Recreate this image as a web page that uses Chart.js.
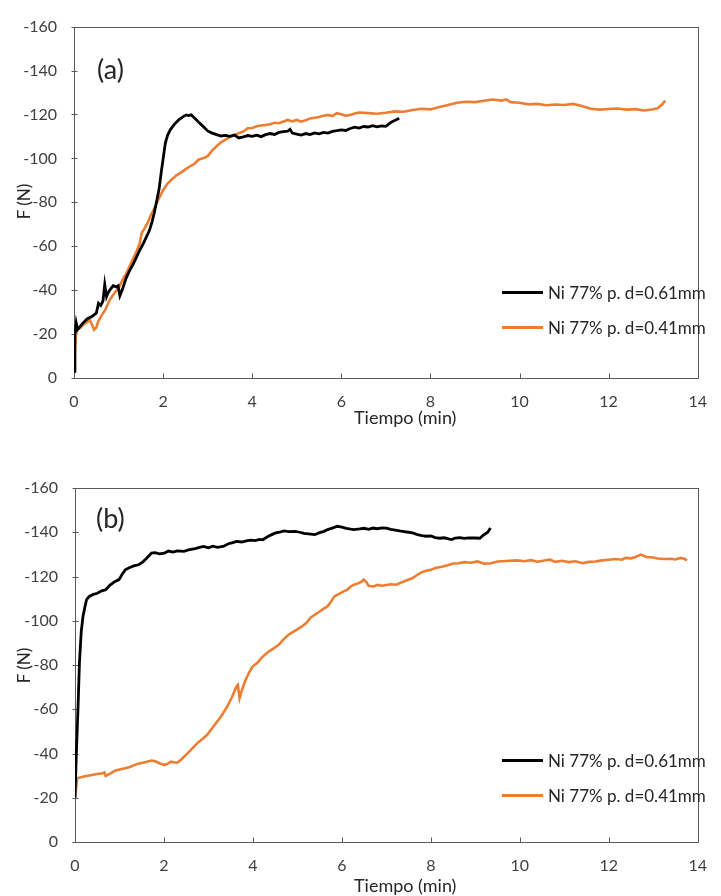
<!DOCTYPE html>
<html>
<head>
<meta charset="utf-8">
<script src="https://cdn.jsdelivr.net/npm/chart.js@4.4.1/dist/chart.umd.min.js"></script>
<style>
  body { margin: 0; background: #fff; font-family: Lato, "Open Sans", sans-serif; color: #262626; }
  #wrap { position: relative; width: 721px; height: 896px; overflow: hidden; }
  canvas { position: absolute; left: 0; }
  .txt { position: absolute; white-space: nowrap; line-height: 20px; }
  .leg { position: absolute; height: 3px; width: 41px; }
  .ytitle { position: absolute; font-size: 17px; transform: rotate(-90deg); transform-origin: center; white-space: nowrap; }
  .panel { position: absolute; font-size: 27px; line-height: 30px; }
</style>
</head>
<body>
<div id="wrap">
  <canvas id="chartA" width="721" height="440" style="top:0"></canvas>
  <canvas id="chartB" width="721" height="448" style="top:448px"></canvas>

  <div class="panel" style="left:97px;top:54px">(a)</div>
  <div class="panel" style="left:96px;top:503px">(b)</div>

  <div class="ytitle" style="left:3px;top:191px;width:40px;text-align:center">F (N)</div>
  <div class="ytitle" style="left:3px;top:655px;width:40px;text-align:center">F (N)</div>

  <div class="txt" style="left:354px;top:407px;font-size:18px">Tiempo (min)</div>
  <div class="txt" style="left:354px;top:875px;font-size:18px">Tiempo (min)</div>

  <div class="leg" style="left:502px;top:291px;background:#000"></div>
  <div class="txt" style="left:548px;top:283px;font-size:17px">Ni 77% p. d=0.61mm</div>
  <div class="leg" style="left:502px;top:326px;background:#ed7d31"></div>
  <div class="txt" style="left:548px;top:318px;font-size:17px">Ni 77% p. d=0.41mm</div>

  <div class="leg" style="left:502px;top:759px;background:#000"></div>
  <div class="txt" style="left:548px;top:751px;font-size:17px">Ni 77% p. d=0.61mm</div>
  <div class="leg" style="left:502px;top:794px;background:#ed7d31"></div>
  <div class="txt" style="left:548px;top:786px;font-size:17px">Ni 77% p. d=0.41mm</div>
</div>

<script>
// axis ticks
const xTicks = [0, 2, 4, 6, 8, 10, 12, 14];
const yTicks = [0, -20, -40, -60, -80, -100, -120, -140, -160];

const seriesNames = ["Ni 77% p. d=0.61mm", "Ni 77% p. d=0.41mm"];

// (a) d=0.61mm
const aBlackT = [0, 0.02, 0.05, 0.08, 0.12, 0.2, 0.3, 0.4, 0.5, 0.55, 0.6, 0.65, 0.69, 0.73, 0.77, 0.82, 0.88, 0.95, 0.99, 1.03, 1.08, 1.17, 1.25, 1.32, 1.39, 1.47, 1.55, 1.62, 1.69, 1.75, 1.8, 1.85, 1.91, 1.96, 2.05, 2.1, 2.16, 2.25, 2.35, 2.45, 2.52, 2.57, 2.63, 2.7, 2.8, 2.9, 3.0, 3.1, 3.2, 3.3, 3.4, 3.5, 3.6, 3.7, 3.8, 3.9, 4.0, 4.1, 4.2, 4.3, 4.4, 4.5, 4.6, 4.7, 4.8, 4.85, 4.9, 5.0, 5.1, 5.2, 5.3, 5.4, 5.5, 5.6, 5.7, 5.8, 5.9, 6.0, 6.1, 6.2, 6.3, 6.4, 6.5, 6.6, 6.7, 6.8, 6.9, 7.0, 7.1, 7.2, 7.3];
const aBlackF = [-3, -20, -25, -22, -23, -25, -27, -28, -29.5, -34, -33, -35, -42.5, -37, -39, -40.5, -42, -41.5, -42, -37.5, -40, -45.5, -49, -51.5, -54.5, -58, -61, -64, -67, -71, -75, -80, -86, -94, -107, -110.5, -113, -115.5, -117.5, -119, -119.8, -119.5, -119.8, -118.5, -116.5, -114.5, -112.5, -111.5, -110.8, -110.2, -110.5, -110, -110.6, -109.3, -109.8, -110.4, -110, -110.6, -109.9, -110.8, -111.3, -110.9, -111.8, -112.2, -112.4, -113.2, -111.5, -111, -110.6, -111.3, -110.8, -111.6, -111.2, -111.8, -111.5, -112.3, -112.6, -113, -112.7, -113.6, -114.2, -113.8, -114.5, -114.3, -114.9, -114.4, -114.8, -114.6, -116.2, -117.3, -118.3];

// (a) d=0.41mm
const aOrangeT = [0, 0.02, 0.04, 0.08, 0.15, 0.22, 0.3, 0.35, 0.4, 0.45, 0.5, 0.55, 0.62, 0.7, 0.8, 0.9, 1.0, 1.1, 1.17, 1.25, 1.32, 1.4, 1.47, 1.52, 1.58, 1.65, 1.72, 1.8, 1.9, 2.0, 2.1, 2.2, 2.3, 2.4, 2.5, 2.6, 2.7, 2.8, 2.9, 3.0, 3.1, 3.2, 3.3, 3.4, 3.5, 3.6, 3.7, 3.8, 3.9, 4.0, 4.1, 4.2, 4.3, 4.4, 4.5, 4.6, 4.7, 4.8, 4.9, 5.0, 5.1, 5.2, 5.3, 5.4, 5.5, 5.6, 5.7, 5.8, 5.9, 6.0, 6.1, 6.2, 6.3, 6.4, 6.6, 6.8, 7.0, 7.2, 7.4, 7.6, 7.8, 8.0, 8.2, 8.4, 8.6, 8.8, 9.0, 9.2, 9.4, 9.6, 9.7, 9.8, 10.0, 10.2, 10.4, 10.6, 10.8, 11.0, 11.2, 11.4, 11.6, 11.8, 12.0, 12.2, 12.4, 12.6, 12.8, 13.0, 13.1, 13.2, 13.27];
const aOrangeF = [-4, -12, -20, -22, -23, -24.5, -25.5, -26.5, -24.5, -22, -23, -26, -28.5, -31, -35.5, -38.5, -41, -45, -47.5, -51, -54, -57.5, -61, -66, -68, -70.5, -74, -77, -81.5, -85.5, -88.5, -90.5, -92.3, -93.5, -95, -96.3, -97.5, -99.5, -100, -101, -103.5, -105.5, -107.3, -108.5, -109.8, -110.6, -111.5, -112.2, -113.7, -113.8, -114.6, -115, -115.2, -115.5, -116.2, -116, -116.8, -117.5, -116.8, -117.5, -116.7, -117.4, -118.2, -118.5, -118.8, -119.4, -119.8, -119.3, -120.6, -120.1, -119.4, -119.8, -120.4, -120.9, -120.6, -120.3, -120.8, -121.4, -121.2, -122, -122.6, -122.3, -123.4, -124.3, -125.3, -125.8, -125.6, -126.2, -126.8, -126.3, -126.9, -125.6, -125.3, -124.6, -124.8, -124.2, -124.5, -124.3, -124.8, -123.8, -122.6, -122.2, -122.5, -122.7, -122.2, -122.4, -121.8, -122.4, -122.8, -124.5, -126.3];

// (b) d=0.61mm
const bBlackT = [0, 0.03, 0.07, 0.1, 0.14, 0.18, 0.22, 0.26, 0.32, 0.4, 0.5, 0.6, 0.69, 0.78, 0.88, 0.99, 1.06, 1.13, 1.22, 1.32, 1.43, 1.52, 1.6, 1.72, 1.8, 1.9, 2.01, 2.1, 2.2, 2.3, 2.45, 2.55, 2.7, 2.8, 2.89, 3.0, 3.1, 3.2, 3.33, 3.45, 3.55, 3.63, 3.75, 3.85, 3.95, 4.05, 4.15, 4.22, 4.3, 4.4, 4.51, 4.6, 4.7, 4.8, 4.95, 5.05, 5.15, 5.25, 5.39, 5.5, 5.6, 5.68, 5.8, 5.9, 6.0, 6.1, 6.2, 6.27, 6.4, 6.5, 6.6, 6.7, 6.8, 6.9, 7.0, 7.1, 7.2, 7.3, 7.4, 7.5, 7.59, 7.7, 7.8, 7.9, 8.0, 8.1, 8.2, 8.3, 8.4, 8.47, 8.55, 8.65, 8.75, 8.85, 8.99, 9.1, 9.2, 9.28, 9.34];
const bBlackF = [-20, -40, -62, -81, -95, -102, -106, -109.5, -111, -111.8, -112.4, -113.5, -114, -116, -117.5, -118.6, -121, -123, -124, -124.8, -125.3, -126.5, -128, -130.6, -130.8, -130.2, -130.6, -131.5, -131, -131.6, -131.4, -132, -132.6, -133.2, -133.6, -133, -133.7, -133.2, -133.6, -134.8, -135.3, -135.9, -135.6, -136.1, -136.4, -136.2, -136.8, -136.6, -137.6, -138.7, -139.7, -140, -140.6, -140.3, -140.4, -140, -139.5, -139.3, -138.9, -139.8, -140.4, -141.2, -142, -142.7, -142.3, -141.8, -141.4, -141.2, -141.5, -141.8, -141.3, -141.9, -141.6, -142, -141.9, -141.3, -141, -140.6, -140.3, -140, -139.7, -138.9, -138.5, -138.2, -138.3, -137.6, -137.3, -137.5, -137, -136.7, -137.4, -137.6, -137.2, -137.5, -137.4, -137.3, -139, -140, -141.9];

// (b) d=0.41mm
const bOrangeT = [0, 0.05, 0.2, 0.35, 0.5, 0.62, 0.66, 0.69, 0.8, 0.9, 1.0, 1.13, 1.25, 1.4, 1.55, 1.72, 1.8, 1.9, 2.01, 2.1, 2.16, 2.25, 2.31, 2.4, 2.5, 2.6, 2.75, 2.85, 2.97, 3.05, 3.15, 3.25, 3.33, 3.43, 3.53, 3.63, 3.66, 3.7, 3.75, 3.83, 3.91, 3.99, 4.1, 4.22, 4.35, 4.45, 4.58, 4.7, 4.8, 4.95, 5.1, 5.2, 5.3, 5.39, 5.5, 5.6, 5.68, 5.75, 5.83, 5.95, 6.05, 6.12, 6.2, 6.27, 6.38, 6.45, 6.49, 6.55, 6.6, 6.71, 6.8, 6.9, 7.0, 7.1, 7.22, 7.35, 7.45, 7.59, 7.7, 7.8, 7.9, 8.0, 8.1, 8.25, 8.4, 8.5, 8.62, 8.75, 8.9, 9.05, 9.2, 9.35, 9.5, 9.7, 9.94, 10.1, 10.25, 10.4, 10.55, 10.68, 10.8, 10.95, 11.1, 11.25, 11.41, 11.55, 11.7, 11.85, 12.0, 12.15, 12.3, 12.37, 12.5, 12.6, 12.72, 12.85, 13.0, 13.1, 13.25, 13.4, 13.5, 13.61, 13.7, 13.76];
const bOrangeF = [-20, -28.8, -29.6, -30.2, -30.7, -31.1, -31.4, -29.9, -31, -32.2, -32.8, -33.3, -34, -35.3, -35.9, -36.8, -36.5, -35.6, -34.8, -35.5, -36.3, -35.9, -35.9, -37.5, -39.5, -41.5, -44.7, -46.3, -48.4, -50.5, -53.2, -55.8, -58.2, -61.5, -65.5, -70.3, -71, -65, -68.5, -73, -76.5, -79.3, -81, -83.8, -86, -87.3, -89.1, -91.8, -93.7, -95.5, -97.4, -99, -101.5, -102.7, -104.2, -105.6, -106.5, -108.5, -111, -112.3, -113.4, -114, -115.5, -116.3, -117, -117.8, -118.6, -117.5, -115.8, -115.5, -116.2, -115.8, -116.2, -116.5, -116.3, -117.4, -118.2, -119.3, -120.8, -122, -122.6, -123, -123.8, -124.4, -125.2, -125.9, -126, -126.5, -126.2, -126.8, -125.8, -126, -126.8, -127, -127.3, -126.9, -127.4, -126.7, -127.2, -127.6, -126.6, -127.1, -126.5, -126.9, -126, -126.6, -126.8, -127.3, -127.6, -127.9, -127.6, -128.4, -128.2, -128.8, -129.9, -128.8, -128.6, -128.1, -127.9, -128, -127.7, -128.4, -128, -127.3];

function pts(t, f) {
  return t.map((v, i) => ({ x: v, y: f[i] }));
}

// frame around plot + tick marks (x ticks inward, y ticks crossing)
const frameTicks = {
  id: 'frameTicks',
  beforeDatasetsDraw(chart) {
    const { ctx, chartArea: a, scales } = chart;
    const l = Math.round(a.left) + 0.5, r = Math.round(a.right) + 0.5;
    const t = Math.round(a.top) + 0.5, b = Math.round(a.bottom) + 0.5;
    ctx.save();
    ctx.strokeStyle = '#595959';
    ctx.lineWidth = 1;
    ctx.strokeRect(l, t, r - l, b - t);
    ctx.beginPath();
    scales.x.ticks.forEach((tk, i) => {
      const px = Math.round(scales.x.getPixelForTick(i)) + 0.5;
      ctx.moveTo(px, b);
      ctx.lineTo(px, b - 5);
    });
    scales.y.ticks.forEach((tk, i) => {
      const py = Math.round(scales.y.getPixelForTick(i)) + 0.5;
      ctx.moveTo(l - 3, py);
      ctx.lineTo(l + 3, py);
    });
    ctx.stroke();
    ctx.restore();
  }
};

function makeChart(id, black, orange, box) {
  return new Chart(document.getElementById(id), {
    type: 'scatter',
    data: {
      datasets: [
        { label: seriesNames[0], data: black, showLine: true, borderColor: '#000000', borderWidth: 2.8, pointRadius: 0, tension: 0 },
        { label: seriesNames[1], data: orange, showLine: true, borderColor: '#ed7d31', borderWidth: 2.6, pointRadius: 0, tension: 0 }
      ]
    },
    options: {
      responsive: false,
      devicePixelRatio: 1,
      animation: false,
      layout: { padding: { top: box.top, right: box.right, left: 0, bottom: 0 } },
      plugins: { legend: { display: false }, tooltip: { enabled: false } },
      scales: {
        x: {
          type: 'linear', min: 0, max: 14,
          afterFit: s => { s.height = box.xh; },
          afterBuildTicks: s => { s.ticks = xTicks.map(v => ({ value: v })); },
          grid: { display: false, drawTicks: false },
          border: { display: false },
          ticks: { padding: 14, color: '#404040', font: { family: 'Lato', size: 16 }, maxRotation: 0 }
        },
        y: {
          type: 'linear', min: -160, max: 0, reverse: true,
          afterFit: s => { s.width = box.yw; },
          afterBuildTicks: s => { s.ticks = yTicks.map(v => ({ value: v })); },
          grid: { display: false, drawTicks: false },
          border: { display: false },
          ticks: { padding: 17, color: '#404040', font: { family: 'Lato', size: 16 } }
        }
      }
    },
    plugins: [frameTicks]
  });
}

makeChart('chartA', pts(aBlackT, aBlackF), pts(aOrangeT, aOrangeF), { top: 24, right: 12, xh: 62, yw: 74 });
makeChart('chartB', pts(bBlackT, bBlackF), pts(bOrangeT, bOrangeF), { top: 40, right: 10, xh: 54, yw: 75 });
</script>
</body>
</html>
